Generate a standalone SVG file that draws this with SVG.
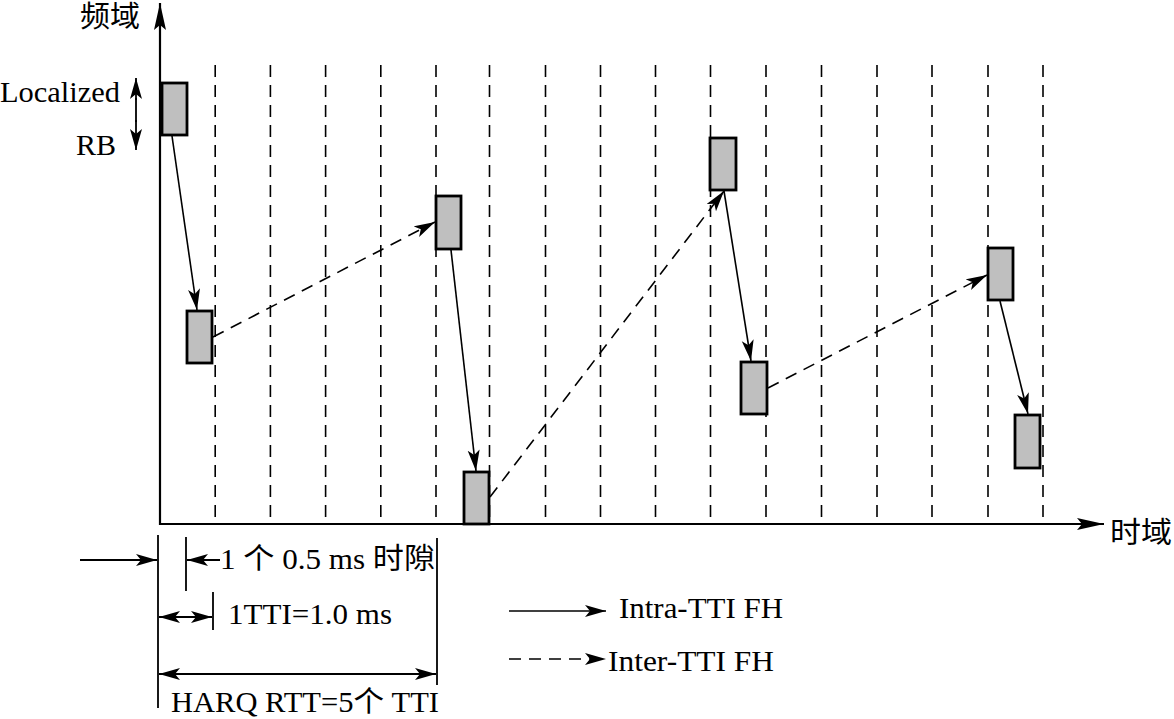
<svg xmlns="http://www.w3.org/2000/svg" width="1174" height="719" viewBox="0 0 1174 719">
<style>
text{font-family:"Liberation Serif","Noto Sans CJK SC",serif;font-size:29px;fill:#000}
.grid line{stroke:#000;stroke-width:1.6;stroke-dasharray:12 8}
.rb{fill:#bfbfbf;stroke:#000;stroke-width:2.8}
.solid{stroke:#000;stroke-width:1.6;fill:none;marker-end:url(#ah)}
.dash{stroke:#000;stroke-width:1.6;fill:none;stroke-dasharray:12 8;marker-end:url(#ah)}
.ax{stroke:#000;stroke-width:2.2;fill:none}
.dim{stroke:#000;stroke-width:1.8;fill:none}
</style>
<defs>
<marker id="ah" markerUnits="userSpaceOnUse" markerWidth="24" markerHeight="14" refX="21" refY="6" orient="auto">
<path d="M0,0 L21,6 L0,12 L5,6 Z" fill="#000"/>
</marker>
<marker id="ahs" markerUnits="userSpaceOnUse" markerWidth="24" markerHeight="14" refX="21" refY="6" orient="auto-start-reverse">
<path d="M0,0 L21,6 L0,12 L5,6 Z" fill="#000"/>
</marker>
<marker id="axh" markerUnits="userSpaceOnUse" markerWidth="30" markerHeight="14" refX="27" refY="6" orient="auto">
<path d="M0,0 L27,6 L0,12 L5,6 Z" fill="#000"/>
</marker>
</defs>

<g id="grid" class="grid">
<line x1="215.2" y1="65" x2="215.2" y2="524"/>
<line x1="270.4" y1="65" x2="270.4" y2="524"/>
<line x1="325.6" y1="65" x2="325.6" y2="524"/>
<line x1="380.8" y1="65" x2="380.8" y2="524"/>
<line x1="436" y1="65" x2="436" y2="524"/>
<line x1="489.5" y1="65" x2="489.5" y2="524"/>
<line x1="545.5" y1="65" x2="545.5" y2="524"/>
<line x1="600.5" y1="65" x2="600.5" y2="524"/>
<line x1="655.5" y1="65" x2="655.5" y2="524"/>
<line x1="710.5" y1="65" x2="710.5" y2="524"/>
<line x1="766" y1="65" x2="766" y2="524"/>
<line x1="821.5" y1="65" x2="821.5" y2="524"/>
<line x1="877" y1="65" x2="877" y2="524"/>
<line x1="932" y1="65" x2="932" y2="524"/>
<line x1="988" y1="65" x2="988" y2="524"/>
<line x1="1043" y1="65" x2="1043" y2="524"/>
</g>

<g id="axes">
<line class="ax" x1="160" y1="525" x2="160" y2="3" marker-end="url(#axh)"/>
<line class="ax" x1="159" y1="524" x2="1104" y2="524" marker-end="url(#axh)"/>
<text x="80" y="27" textLength="60" lengthAdjust="spacingAndGlyphs">频域</text>
<text x="1110" y="543" textLength="62" lengthAdjust="spacingAndGlyphs">时域</text>
</g>

<g id="rb-label">
<text x="0" y="102" textLength="120" lengthAdjust="spacingAndGlyphs">Localized</text>
<text x="76" y="155" textLength="40" lengthAdjust="spacingAndGlyphs">RB</text>
<line class="dim" x1="136" y1="100" x2="136" y2="78" marker-end="url(#ahs)"/>
<line class="dim" x1="136" y1="120" x2="136" y2="150" marker-end="url(#ahs)"/>
<line class="dim" x1="136" y1="98" x2="136" y2="122"/>
</g>

<g id="rb1"><rect class="rb" x="162" y="83" width="25" height="52"/></g>
<g id="rb2"><rect class="rb" x="187" y="311" width="25" height="52"/></g>
<g id="rb3"><rect class="rb" x="436" y="196" width="25" height="53"/></g>
<g id="rb4"><rect class="rb" x="464" y="472" width="25" height="52"/></g>
<g id="rb5"><rect class="rb" x="710" y="138" width="26" height="52"/></g>
<g id="rb6"><rect class="rb" x="741" y="362" width="26" height="52"/></g>
<g id="rb7"><rect class="rb" x="988" y="248" width="25" height="52"/></g>
<g id="rb8"><rect class="rb" x="1015" y="415" width="25" height="53"/></g>

<g id="connectors">
<line class="solid" x1="172" y1="136" x2="197" y2="310"/>
<line class="dash" x1="213" y1="337" x2="435" y2="222"/>
<line class="solid" x1="451" y1="250" x2="476" y2="471"/>
<line class="dash" x1="490" y1="497" x2="724" y2="191"/>
<line class="solid" x1="724" y1="191" x2="751" y2="361"/>
<line class="dash" x1="768" y1="388" x2="987" y2="275"/>
<line class="solid" x1="1000" y1="301" x2="1028" y2="414"/>
</g>

<g id="dimensions">
<line class="dim" x1="158" y1="535" x2="158" y2="708"/>
<line class="dim" x1="186" y1="537" x2="186" y2="591"/>
<line class="dim" x1="213" y1="592" x2="213" y2="630"/>
<line class="dim" x1="437" y1="538" x2="437" y2="685"/>
<line class="dim" x1="80" y1="560" x2="157" y2="560" marker-end="url(#ah)"/>
<line class="dim" x1="220" y1="560" x2="187" y2="560" marker-end="url(#ah)"/>
<line class="dim" x1="159" y1="617" x2="212" y2="617" marker-start="url(#ahs)" marker-end="url(#ahs)"/>
<line class="dim" x1="159" y1="674" x2="436" y2="674" marker-start="url(#ahs)" marker-end="url(#ahs)"/>
<text x="220" y="569" textLength="215" lengthAdjust="spacingAndGlyphs">1 个 0.5 ms 时隙</text>
<text x="228" y="624" textLength="164" lengthAdjust="spacingAndGlyphs">1TTI=1.0 ms</text>
<text x="171" y="712" textLength="268" lengthAdjust="spacingAndGlyphs">HARQ RTT=5个 TTI</text>
</g>

<g id="legend">
<line class="solid" x1="509" y1="611" x2="606" y2="611"/>
<text x="619" y="618" textLength="164" lengthAdjust="spacingAndGlyphs">Intra-TTI FH</text>
<line class="dash" x1="509" y1="659" x2="606" y2="659"/>
<text x="608" y="671" textLength="166" lengthAdjust="spacingAndGlyphs">Inter-TTI FH</text>
</g>
</svg>
